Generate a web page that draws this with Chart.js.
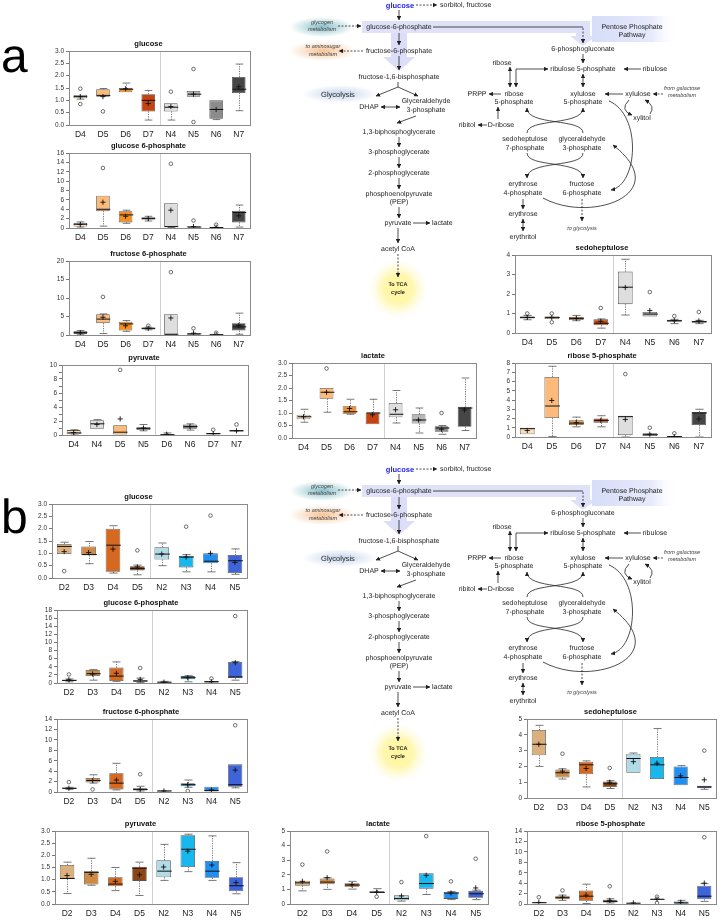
<!DOCTYPE html>
<html>
<head>
<meta charset="utf-8">
<script src="https://cdn.jsdelivr.net/npm/chart.js@4.4.1/dist/chart.umd.min.js"></script>
<style>
  body { margin: 0; background: #fff; font-family: 'Liberation Sans', Arial, sans-serif; }
  #page { position: relative; width: 723px; height: 920px; overflow: hidden; }
  #page canvas { position: absolute; }
  #pw { position: absolute; left: 0; top: 0; will-change: transform; }
</style>
</head>
<body>
<div id="page">
  <svg id="pw" width="723" height="920" xmlns="http://www.w3.org/2000/svg"></svg>
</div>
<script>
// ---- group labels and colours ----
const aLabels = ['D4', 'D5', 'D6', 'D7', 'N4', 'N5', 'N6', 'N7'];
const aPyrLabels = ['D4', 'N4', 'D5', 'N5', 'D6', 'N6', 'D7', 'N7'];
const bLabels = ['D2', 'D3', 'D4', 'D5', 'N2', 'N3', 'N4', 'N5'];

const aColors = ['#fddcb6', '#fdbb7b', '#f68d1f', '#c5430f', '#dedede', '#b7b7b7', '#8c8c8c', '#464646'];
const aPyrColors = ['#fddcb6', '#dedede', '#fdbb7b', '#b7b7b7', '#f68d1f', '#8c8c8c', '#c5430f', '#464646'];
const bColors = ['#dcb07c', '#cd8a45', '#d6691f', '#8e4514', '#b1dbe7', '#18b8ef', '#1f8ff3', '#3f63d9'];

// ---- box stats: [min, q1, median, q3, max] ----
const aGluStats = [[1.05,1.08,1.15,1.22,1.22],[1.15,1.15,1.2,1.45,1.48],[1.33,1.33,1.45,1.5,1.7],[0.2,0.55,1.0,1.25,1.4],[0.2,0.55,0.72,0.88,0.88],[1.15,1.15,1.25,1.38,1.38],[0.22,0.25,0.63,1.0,1.0],[0.58,1.3,1.45,1.95,2.47]];
const aGluMean = [1.15,1.15,1.47,0.87,0.75,1.25,0.63,1.55];
const aGluOut = [[1.47,0.85],[0.55],[],[],[1.35],[2.27,0.12],[],[]];

const aG6pStats = [[0.2,0.3,0.8,1.1,1.3],[0.4,3.6,4.0,6.9,6.9],[1.0,1.2,2.8,3.6,3.8],[1.5,1.8,2.0,2.3,2.5],[0.1,0.2,0.3,5.3,5.3],[0.1,0.1,0.2,0.4,0.4],[0,0,0.1,0.2,0.2],[0.2,1.2,3.3,3.7,4.9]];
const aG6pMean = [0.75,5.5,2.5,2.0,3.8,0.3,0.15,2.6];
const aG6pOut = [[],[12.8],[],[],[13.7],[1.6],[0.7],[]];

const aF6pStats = [[0.2,0.3,0.7,1.0,1.2],[0.4,3.2,4.3,5.6,5.7],[1.0,1.2,3.0,3.6,3.9],[1.4,1.5,1.8,2.0,2.1],[0.1,0.1,0.2,5.6,5.6],[0.1,0.1,0.3,0.5,0.5],[0,0,0.1,0.2,0.2],[0.2,1.2,2.2,3.2,5.9]];
const aF6pMean = [0.6,4.8,2.5,1.8,4.6,0.5,0.1,2.6];
const aF6pOut = [[],[10.3],[],[2.5],[17.0],[1.8],[0.6],[]];

const aPyrStats = [[0,0.1,0.3,0.7,0.75],[0.9,0.9,1.6,2.1,2.2],[0,0,0.4,1.4,1.4],[0.6,0.7,0.95,1.1,1.5],[0,0,0.05,0.15,0.3],[0.7,0.9,1.2,1.5,1.6],[0,0,0.2,0.3,0.3],[0.5,0.5,0.6,0.7,0.7]];
const aPyrMean = [0.35,1.5,2.3,1.0,0.1,1.2,0.2,0.6];
const aPyrOut = [[],[],[9.3],[],[],[],[0.75],[1.5]];

const aLacStats = [[0.63,0.75,0.85,0.93,1.15],[1.03,1.57,1.83,2.0,2.0],[0.95,0.97,1.05,1.27,1.55],[0.55,0.55,1.0,1.02,1.55],[0.6,0.83,0.95,1.4,1.9],[0.2,0.58,0.72,0.95,1.2],[0.15,0.25,0.4,0.47,0.5],[0.3,0.45,1.2,1.25,2.4]];
const aLacMean = [0.85,1.83,1.18,0.93,1.13,0.72,0.35,1.12];
const aLacOut = [[],[2.78],[],[],[],[],[1.0],[]];

const aSedStats = [[0.68,0.75,0.8,0.85,0.9],[0.72,0.72,0.8,0.85,0.85],[0.63,0.67,0.75,0.82,0.9],[0.25,0.4,0.5,0.7,0.72],[0.92,1.48,2.35,3.15,3.78],[0.85,0.85,0.97,1.08,1.08],[0.48,0.58,0.63,0.68,0.7],[0.48,0.53,0.58,0.63,0.65]];
const aSedMean = [0.8,0.8,0.75,0.6,2.33,1.15,0.63,0.62];
const aSedOut = [[1.0],[1.0,0.55],[],[1.28],[],[2.1],[0.87],[1.08]];

const aRibStats = [[0.3,0.3,0.9,1.0,1.0],[0.05,2.05,3.35,6.5,7.65],[1.1,1.3,1.5,1.8,2.15],[1.1,1.55,1.8,2.0,2.3],[0,0.2,2.2,2.3,2.3],[0.1,0.1,0.25,0.4,0.4],[0,0,0.05,0.1,0.1],[0,1.3,2.6,2.7,3.0]];
const aRibMean = [0.7,3.95,1.55,1.8,1.9,0.3,0.05,1.95];
const aRibOut = [[],[],[],[],[6.8],[1.0],[0.4],[]];

const bGluStats = [[0.97,0.97,1.28,1.38,1.45],[0.58,0.92,0.95,1.28,1.48],[0.2,0.25,1.33,2.0,2.12],[0.13,0.3,0.38,0.48,0.52],[0.5,0.75,0.97,1.25,1.42],[0.25,0.43,0.85,0.9,0.95],[0.25,0.6,0.68,1.0,1.0],[0.15,0.2,0.7,0.93,1.18]];
const bGluMean = [1.07,1.03,1.17,0.45,0.97,0.85,1.0,0.63];
const bGluOut = [[0.28],[],[],[1.12],[],[2.08],[2.53],[]];

const bG6pStats = [[0.3,0.5,0.65,0.8,1.0],[0.7,1.7,2.3,3.2,3.3],[0.4,0.5,1.7,3.8,5.2],[0.1,0.3,0.5,0.7,1.2],[0,0.1,0.2,0.3,0.4],[0.3,0.9,1.3,1.7,1.8],[0.1,0.1,0.3,0.5,0.5],[0.7,1.2,1.5,5.2,5.3]];
const bG6pMean = [0.8,2.2,2.4,0.9,0.2,1.3,0.3,5.0];
const bG6pOut = [[2.1],[],[],[3.7],[],[],[1.1],[16.5]];

const bF6pStats = [[0.5,0.6,0.7,0.85,0.9],[1.7,1.8,2.2,2.7,3.3],[0.4,0.5,1.7,3.6,5.5],[0.2,0.3,0.5,0.7,1.1],[0.1,0.1,0.2,0.3,0.3],[0.9,1.1,1.4,1.7,2.3],[0.1,0.1,0.3,1.0,1.0],[0.8,1.0,1.4,5.3,5.3]];
const bF6pMean = [0.7,2.2,2.3,0.5,0.2,1.4,0.4,4.2];
const bF6pOut = [[1.9],[0.5],[],[3.4],[],[0.2],[],[12.8]];

const bPyrStats = [[0.43,1.03,1.05,1.6,1.72],[0.77,0.8,1.3,1.35,1.88],[0.55,0.73,0.82,1.1,1.5],[0.35,0.95,1.47,1.53,1.72],[0.97,1.1,1.35,1.8,2.45],[1.33,1.52,2.25,2.83,2.87],[0.97,1.08,1.35,1.77,2.8],[0.42,0.52,0.75,1.1,1.7]];
const bPyrMean = [1.17,1.22,0.93,1.2,1.52,2.17,1.6,0.88];
const bPyrOut = [[],[],[],[],[],[],[],[]];

const bLacStats = [[0.9,1.25,1.45,1.6,1.6],[1.0,1.35,1.5,1.75,1.8],[1.02,1.18,1.3,1.42,1.55],[0.75,0.75,0.8,0.88,1.05],[0.2,0.25,0.38,0.6,0.6],[0.65,1.05,1.4,2.1,2.1],[0.3,0.35,0.75,0.8,0.85],[0.3,0.42,0.7,0.9,0.95]];
const bLacMean = [1.55,1.8,1.32,0.82,0.55,1.97,0.75,1.1];
const bLacOut = [[2.7],[3.6],[],[0.5],[1.5],[4.65],[1.55],[3.1]];

const bSedStats = [[2.0,2.7,3.4,4.3,4.6],[1.2,1.3,1.6,1.8,1.85],[0.7,1.5,2.1,2.3,2.35],[0.6,0.7,0.9,1.05,1.1],[1.6,1.6,2.5,2.8,2.85],[1.2,1.2,2.1,2.6,4.4],[0.8,0.8,1.3,2.0,2.05],[0.55,0.63,0.7,0.78,0.78]];
const bSedMean = [3.4,1.7,1.87,1.0,2.3,2.2,1.4,1.15];
const bSedOut = [[],[2.8],[],[1.9],[],[],[],[3.0]];

const bRibStats = [[0.15,0.15,0.25,0.35,0.35],[0.7,0.9,1.2,1.6,1.7],[0.1,0.6,1.5,2.6,3.8],[0.2,0.3,0.5,0.8,1.0],[0.1,0.1,0.15,0.25,0.25],[0.8,0.8,0.9,1.0,1.0],[0,0,0.2,0.5,0.7],[0.5,0.9,1.5,3.5,3.9]];
const bRibMean = [0.3,1.3,1.7,0.7,0.2,0.95,0.3,4.0];
const bRibOut = [[1.3],[2.6],[],[3.4],[],[1.4,0.2],[],[12.8]];

// ---- whiskers, medians, divider and frame ----
const boxPlugin = {
  id: 'boxextras',
  afterDatasetDraw(chart, args, opts) {
    if (args.index !== 0) return;
    const { ctx, scales: { y } } = chart;
    ctx.save();
    opts.stats.forEach((s, i) => {
      const bar = args.meta.data[i];
      const cx = Math.round(bar.x) + 0.5, hw = bar.width / 2, cap = bar.width * 0.28;
      const pMin = y.getPixelForValue(s[0]), pQ1 = y.getPixelForValue(s[1]);
      const pMed = y.getPixelForValue(s[2]), pQ3 = y.getPixelForValue(s[3]);
      const pMax = y.getPixelForValue(s[4]);
      ctx.strokeStyle = '#555';
      ctx.lineWidth = 0.8;
      ctx.setLineDash([1.2, 1.2]);
      ctx.beginPath();
      if (s[4] > s[3]) { ctx.moveTo(cx, pQ3); ctx.lineTo(cx, pMax); }
      if (s[0] < s[1]) { ctx.moveTo(cx, pQ1); ctx.lineTo(cx, pMin); }
      ctx.stroke();
      ctx.setLineDash([]);
      ctx.beginPath();
      if (s[4] > s[3]) { ctx.moveTo(cx - cap, pMax); ctx.lineTo(cx + cap, pMax); }
      if (s[0] < s[1]) { ctx.moveTo(cx - cap, pMin); ctx.lineTo(cx + cap, pMin); }
      ctx.stroke();
      ctx.strokeStyle = '#111';
      ctx.lineWidth = 1;
      ctx.beginPath();
      ctx.moveTo(cx - hw, pMed); ctx.lineTo(cx + hw, pMed);
      ctx.stroke();
    });
    ctx.restore();
  },
  afterDraw(chart, args, opts) {
    const { ctx, chartArea: a, scales: { x } } = chart;
    ctx.save();
    const dx = (x.getPixelForValue(opts.divider) + x.getPixelForValue(opts.divider - 1)) / 2;
    ctx.strokeStyle = '#cfcfcf';
    ctx.lineWidth = 1;
    ctx.beginPath();
    ctx.moveTo(Math.round(dx) + 0.5, a.top); ctx.lineTo(Math.round(dx) + 0.5, a.bottom);
    ctx.stroke();
    ctx.strokeStyle = '#8a8a8a';
    ctx.strokeRect(Math.round(a.left) + 0.5, Math.round(a.top) + 0.5, Math.round(a.right - a.left), Math.round(a.bottom - a.top));
    ctx.restore();
  }
};

const Y_W = 24, TITLE_H = 13, X_H = 18, PAD_R = 3;

function boxChart(rect, title, labels, colors, stats, means, outs, yMax, yStep, dec, labelEvery) {
  const canvas = document.createElement('canvas');
  canvas.width = rect.r - rect.l + Y_W + PAD_R;
  canvas.height = rect.b - rect.t + TITLE_H + X_H;
  canvas.style.left = (rect.l - Y_W) + 'px';
  canvas.style.top = (rect.t - TITLE_H) + 'px';
  document.getElementById('page').appendChild(canvas);

  const outPts = [];
  outs.forEach((list, i) => list.forEach(v => outPts.push({ x: labels[i], y: v })));
  const yTicks = [];
  for (let v = 0; v <= yMax + 1e-9; v += yStep) yTicks.push(+v.toFixed(4));

  return new Chart(canvas, {
    type: 'bar',
    data: {
      labels,
      datasets: [
        { type: 'bar', data: stats.map(s => [s[1], s[3]]), backgroundColor: colors, borderColor: '#555',
          borderWidth: 0.8, borderSkipped: false, barPercentage: 0.6, categoryPercentage: 1, order: 2 },
        { type: 'line', data: means, showLine: false, pointStyle: 'cross', pointRadius: 2.6,
          borderColor: '#111', borderWidth: 0.9, order: 1 },
        { type: 'line', data: outPts, showLine: false, pointStyle: 'circle', pointRadius: 1.8,
          borderColor: '#333', backgroundColor: 'rgba(255,255,255,0)', borderWidth: 0.7, order: 0 }
      ]
    },
    options: {
      responsive: false,
      animation: false,
      layout: { padding: { right: PAD_R } },
      plugins: {
        legend: { display: false },
        tooltip: { enabled: false },
        title: { display: true, text: title, color: '#111', padding: { top: 1, bottom: 3 },
                 font: { family: 'Liberation Sans', size: 7.5, weight: 'bold' } },
        boxextras: { stats, divider: 4 }
      },
      scales: {
        x: {
          grid: { display: false, drawTicks: false },
          border: { display: true, color: '#8a8a8a' },
          ticks: { color: '#222', padding: 5, font: { family: 'Liberation Sans', size: 8.5 } },
          afterFit: s => { s.height = X_H; }
        },
        y: {
          min: 0, max: yMax,
          afterBuildTicks: s => { s.ticks = yTicks.map(v => ({ value: v })); },
          afterFit: s => { s.width = Y_W; },
          grid: { display: true, drawOnChartArea: false, tickLength: 3, color: '#777' },
          border: { display: true, color: '#8a8a8a' },
          ticks: {
            autoSkip: false, color: '#333', padding: 2,
            font: { family: 'Liberation Sans', size: 6.5 },
            callback: v => (labelEvery && Math.round(v / yStep) % labelEvery) ? '' : Number(v).toFixed(dec)
          }
        }
      }
    },
    plugins: [boxPlugin]
  });
}

// ---- panel a ----
boxChart({ l: 69, t: 51, r: 252, b: 125 }, 'glucose', aLabels, aColors, aGluStats, aGluMean, aGluOut, 3, 0.5, 1);
boxChart({ l: 69, t: 153, r: 252, b: 228 }, 'glucose 6-phosphate', aLabels, aColors, aG6pStats, aG6pMean, aG6pOut, 16, 2, 0);
boxChart({ l: 69, t: 261, r: 252, b: 335 }, 'fructose 6-phosphate', aLabels, aColors, aF6pStats, aF6pMean, aF6pOut, 20, 5, 0);
boxChart({ l: 62, t: 365, r: 250, b: 435 }, 'pyruvate', aPyrLabels, aPyrColors, aPyrStats, aPyrMean, aPyrOut, 10, 1, 0, 2);
boxChart({ l: 292, t: 363, r: 478, b: 438 }, 'lactate', aLabels, aColors, aLacStats, aLacMean, aLacOut, 3, 0.5, 1);
boxChart({ l: 515, t: 255, r: 713, b: 333 }, 'sedoheptulose', aLabels, aColors, aSedStats, aSedMean, aSedOut, 4, 1, 0);
boxChart({ l: 515, t: 363, r: 713, b: 437 }, 'ribose 5-phosphate', aLabels, aColors, aRibStats, aRibMean, aRibOut, 8, 1, 0);

// ---- panel b ----
boxChart({ l: 52, t: 504, r: 249, b: 578 }, 'glucose', bLabels, bColors, bGluStats, bGluMean, bGluOut, 3, 0.5, 1);
boxChart({ l: 57, t: 610, r: 249, b: 683 }, 'glucose 6-phosphate', bLabels, bColors, bG6pStats, bG6pMean, bG6pOut, 18, 2, 0);
boxChart({ l: 57, t: 719, r: 249, b: 792 }, 'fructose 6-phosphate', bLabels, bColors, bF6pStats, bF6pMean, bF6pOut, 14, 2, 0);
boxChart({ l: 55, t: 831, r: 250, b: 904 }, 'pyruvate', bLabels, bColors, bPyrStats, bPyrMean, bPyrOut, 3, 0.5, 1);
boxChart({ l: 290, t: 831, r: 490, b: 904 }, 'lactate', bLabels, bColors, bLacStats, bLacMean, bLacOut, 5, 1, 0);
boxChart({ l: 527, t: 719, r: 718, b: 798 }, 'sedoheptulose', bLabels, bColors, bSedStats, bSedMean, bSedOut, 5, 1, 0);
boxChart({ l: 527, t: 831, r: 718, b: 904 }, 'ribose 5-phosphate', bLabels, bColors, bRibStats, bRibMean, bRibOut, 14, 2, 0);

// ---- pathway diagram (svg, drawn twice) ----
function txt(x, y, t, cls) {
  return `<text x="${x}" y="${y}" class="${cls || 'c'}">${t}</text>`;
}
function arrow(x1, y1, x2, y2, dashed, both) {
  return `<line x1="${x1}" y1="${y1}" x2="${x2}" y2="${y2}" class="ln"${dashed ? ' stroke-dasharray="2,1.5"' : ''}` +
    ` marker-end="url(#ah)"${both ? ' marker-start="url(#ah)"' : ''}/>`;
}
function curve(d, both) {
  return `<path d="${d}" class="ln" fill="none" marker-end="url(#ah)"${both ? ' marker-start="url(#ah)"' : ''}/>`;
}

function pathway(dy) {
  let s = `<g transform="translate(0,${dy})">`;
  // soft backgrounds
  s += '<rect x="362" y="21" width="228" height="12" fill="#dfe1f9"/>';
  s += '<rect x="576" y="21" width="14" height="16" fill="#dfe1f9"/>';
  s += '<polygon points="570,36 596,36 583,46" fill="#dfe1f9"/>';
  s += '<polygon points="391,33 407,33 407,57 415,57 399,71 383,57 391,57" fill="#dcdef8"/>';
  s += '<rect x="592" y="16" width="86" height="26" fill="url(#gPPP)"/>';
  s += '<ellipse cx="322" cy="27" rx="32" ry="10" fill="url(#gTeal)"/>';
  s += '<ellipse cx="323" cy="51" rx="34" ry="10" fill="url(#gOrange)"/>';
  s += '<ellipse cx="340" cy="94" rx="38" ry="9" fill="url(#gBlue)"/>';
  s += '<circle cx="398" cy="289" r="30" fill="url(#gYellow)"/>';

  // glycolysis column
  s += txt(400, 5, 'glucose', 'glc');
  s += arrow(416, 5, 437, 5, true);
  s += txt(440, 5, 'sorbitol, fructose', 'l');
  s += arrow(399, 10, 399, 20);
  s += txt(399, 27, 'glucose-6-phosphate');
  s += '<path d="M433 27 H583" class="ln" fill="none"/>';
  s += arrow(583, 28, 583, 43, true);
  s += txt(322, 23, 'glycogen', 'it');
  s += txt(322, 30, 'metabolism', 'it');
  s += arrow(338, 26, 361, 26, true);
  s += arrow(399, 33, 399, 45);
  s += txt(399, 51, 'fructose-6-phosphate');
  s += txt(323, 47, 'to aminosugar', 'it');
  s += txt(323, 55, 'metabolism', 'it');
  s += arrow(363, 51, 339, 51, true);
  s += arrow(399, 56, 399, 70);
  s += txt(399, 77, 'fructose-1,6-bisphosphate');
  s += txt(338, 94, 'Glycolysis', 'big');
  s += '<path d="M398 82 V87" class="ln" fill="none"/>';
  s += arrow(398, 87, 376, 96);
  s += arrow(398, 87, 418, 96);
  s += txt(369, 107, 'DHAP');
  s += arrow(381, 107, 400, 107, false, true);
  s += txt(426, 101, 'Glyceraldehyde');
  s += txt(426, 110, '3-phosphate');
  s += arrow(416, 116, 397, 123);
  s += txt(399, 132, '1,3-biphosphoglycerate');
  s += arrow(399, 137, 399, 147);
  s += txt(399, 152, '3-phosphoglycerate');
  s += arrow(399, 157, 399, 168);
  s += txt(399, 173, '2-phosphoglycerate');
  s += arrow(399, 178, 399, 189);
  s += txt(399, 194, 'phosphoenolpyruvate');
  s += txt(399, 202, '(PEP)');
  s += arrow(399, 207, 399, 218);
  s += txt(398, 223, 'pyruvate');
  s += arrow(413, 223, 430, 223);
  s += txt(432, 223, 'lactate', 'l');
  s += arrow(398, 228, 398, 243);
  s += txt(398, 249, 'acetyl CoA');
  s += arrow(398, 254, 398, 277, true);
  s += txt(398, 285, 'To TCA', 'tca');
  s += txt(398, 293, 'cycle', 'tca');

  // pentose phosphate pathway
  s += txt(632, 27, 'Pentose Phosphate');
  s += txt(632, 35, 'Pathway');
  s += txt(583, 49, '6-phosphogluconate');
  s += arrow(583, 54, 583, 63);
  s += txt(583, 69, 'ribulose 5-phosphate');
  s += arrow(641, 69, 624, 69);
  s += txt(655, 69, 'ribulose');
  s += txt(502, 63, 'ribose');
  s += arrow(510, 67, 510, 87, false, true);
  s += curve('M548 69 H516 V87', true);
  s += txt(514, 94, 'ribose');
  s += txt(514, 102, '5-phosphate');
  s += arrow(501, 94, 489, 94);
  s += txt(477, 94, 'PRPP');
  s += txt(467, 125, 'ribitol');
  s += arrow(487, 125, 478, 125);
  s += txt(501, 125, 'D-ribose');
  s += arrow(498, 119, 498, 107);
  s += arrow(583, 74, 583, 87, false, true);
  s += txt(583, 94, 'xylulose');
  s += txt(583, 102, '5-phosphate');
  s += arrow(623, 94, 605, 94);
  s += txt(638, 94, 'xylulose');
  s += arrow(663, 94, 653, 94, true);
  s += txt(682, 89, 'from galactose', 'it');
  s += txt(682, 96, 'metabolism', 'it');
  s += curve('M629 100 Q619 110 632 115');
  s += curve('M650 114 Q656 106 645 100');
  s += txt(642, 118, 'xylitol');
  s += curve('M527 133 C527 118 583 126 583 108');
  s += curve('M583 133 C583 118 527 126 527 108');
  s += txt(525, 139, 'sedoheptulose');
  s += txt(525, 148, '7-phosphate');
  s += txt(582, 139, 'glyceraldehyde');
  s += txt(582, 148, '3-phosphate');
  s += curve('M527 153 C527 168 583 160 583 178');
  s += curve('M583 153 C583 168 527 160 527 178');
  s += txt(523, 184, 'erythrose');
  s += txt(523, 193, '4-phosphate');
  s += txt(582, 184, 'fructose');
  s += txt(582, 193, '6-phosphate');
  s += curve('M609 101 C642 115 638 185 611 190');
  s += curve('M543 198 C590 224 676 194 613 145');
  s += arrow(523, 199, 523, 209);
  s += txt(523, 214, 'erythrose');
  s += arrow(523, 219, 523, 231, false, true);
  s += txt(523, 237, 'erythritol');
  s += arrow(582, 199, 582, 221, true);
  s += txt(582, 229, 'to glycolysis', 'it');
  s += '</g>';
  return s;
}

const svg = document.getElementById('pw');
svg.innerHTML = `
<defs>
  <marker id="ah" viewBox="0 0 6 6" refX="5.5" refY="3" markerWidth="4.5" markerHeight="4.5"
          markerUnits="userSpaceOnUse" orient="auto-start-reverse">
    <path d="M0,0 L6,3 L0,6 z" fill="#222"/>
  </marker>
  <radialGradient id="gTeal"><stop offset="0" stop-color="#86bfc9"/><stop offset="1" stop-color="#86bfc9" stop-opacity="0"/></radialGradient>
  <radialGradient id="gOrange"><stop offset="0" stop-color="#f7c396"/><stop offset="1" stop-color="#f7c396" stop-opacity="0"/></radialGradient>
  <radialGradient id="gBlue"><stop offset="0" stop-color="#c3d5ea"/><stop offset="1" stop-color="#c3d5ea" stop-opacity="0"/></radialGradient>
  <radialGradient id="gYellow"><stop offset="0" stop-color="#fff59a"/><stop offset="0.5" stop-color="#fff7b0"/><stop offset="1" stop-color="#fffbe0" stop-opacity="0"/></radialGradient>
  <linearGradient id="gPPP" x1="0" x2="1"><stop offset="0" stop-color="#d6ddf8"/><stop offset="0.7" stop-color="#e6eafb"/><stop offset="1" stop-color="#ffffff" stop-opacity="0"/></linearGradient>
  <style>
    text { font-family: 'Liberation Sans', Arial, sans-serif; font-size: 7px; fill: #222; dominant-baseline: central; text-rendering: geometricPrecision; }
    text.c, text.it, text.big, text.glc, text.tca { text-anchor: middle; }
    text.l { text-anchor: start; }
    text.it { font-style: italic; font-size: 5.5px; fill: #444; }
    text.big { font-size: 7.5px; }
    text.glc { fill: #2424ee; font-weight: bold; font-size: 7.5px; }
    text.tca { font-weight: bold; font-size: 5.5px; }
    text.panel { font-size: 48px; fill: #000; dominant-baseline: alphabetic; text-anchor: start; }
    .ln { stroke: #222; stroke-width: 0.8; }
  </style>
</defs>
${pathway(0)}
${pathway(464)}
<text x="1" y="72" class="panel">a</text>
<text x="1" y="533" class="panel">b</text>
`;
</script>
</body>
</html>
